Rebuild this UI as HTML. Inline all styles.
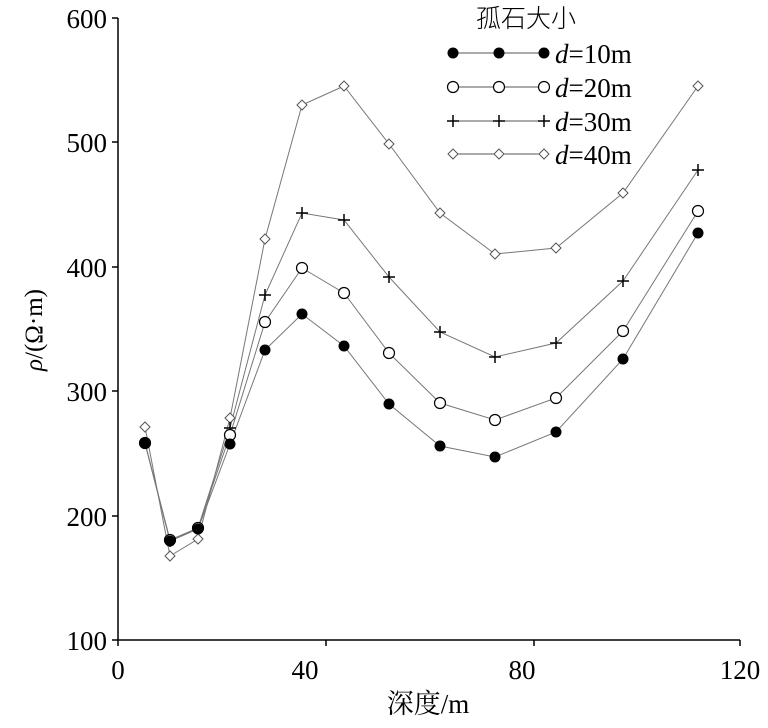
<!DOCTYPE html>
<html><head><meta charset="utf-8"><style>body{margin:0;background:#fff}</style></head><body>
<svg width="768" height="723" xmlns="http://www.w3.org/2000/svg" font-family="Liberation Serif, Noto Serif CJK SC, serif">
<defs>
<circle id="f" r="5.5" fill="#000"/>
<circle id="o" r="5.5" fill="#fff" stroke="#000" stroke-width="1.2"/>
<path id="p" d="M-6 0H6M0 -6V6" stroke="#000" stroke-width="1.5"/>
<path id="dm" d="M0 -5L5 0L0 5L-5 0Z" fill="#fff" stroke="#555" stroke-width="1"/>
</defs>
<g stroke="#000" stroke-width="1.5" fill="none">
<path d="M118 18V640H740"/>
<path d="M112 18H118M112 142H118M112 267H118M112 391H118M112 516H118M112 640H118"/>
<path d="M118 640V646M326 640V646M534 640V646M740 640V646"/>
</g>
<g font-size="27" text-anchor="end">
<text x="107" y="28">600</text><text x="107" y="152">500</text><text x="107" y="277">400</text>
<text x="107" y="401">300</text><text x="107" y="526">200</text><text x="107" y="650">100</text>
</g>
<g font-size="27" text-anchor="middle">
<text x="118" y="679">0</text><text x="305" y="679">40</text><text x="522" y="679">80</text><text x="740" y="679">120</text>
<text x="428" y="713">深度/m</text>
</g>
<text transform="translate(42,330) rotate(-90)" font-size="25" text-anchor="middle"><tspan font-style="italic">ρ</tspan>/(Ω·m)</text>
<rect x="430" y="0" width="200" height="168" fill="#fff"/>
<g fill="none" stroke="#777" stroke-width="1">
<polyline points="145,443 170,541 198,529 230,444 265,350 302,314 344,346 389,404 440,446 495,457 556,432 623,359 698,233"/>
<polyline points="145,443 170,540 198,528 230,435 265,322 302,268 344,293 389,353 440,403 495,420 556,398 623,331 698,211"/>
<polyline points="145,443 170,541 198,528 230,428 265,295 302,213 344,220 389,277 440,332 495,357 556,343 623,281 698,170"/>
<polyline points="145,427 170,556 198,539 230,418 265,239 302,105 344,86 389,144 440,213 495,254 556,248 623,193 698,86"/>
</g>
<g>
<use href="#dm" x="145" y="427"/><use href="#dm" x="170" y="556"/><use href="#dm" x="198" y="539"/><use href="#dm" x="230" y="418"/><use href="#dm" x="265" y="239"/><use href="#dm" x="302" y="105"/><use href="#dm" x="344" y="86"/><use href="#dm" x="389" y="144"/><use href="#dm" x="440" y="213"/><use href="#dm" x="495" y="254"/><use href="#dm" x="556" y="248"/><use href="#dm" x="623" y="193"/><use href="#dm" x="698" y="86"/>
<use href="#p" x="145" y="443"/><use href="#p" x="170" y="541"/><use href="#p" x="198" y="528"/><use href="#p" x="230" y="428"/><use href="#p" x="265" y="295"/><use href="#p" x="302" y="213"/><use href="#p" x="344" y="220"/><use href="#p" x="389" y="277"/><use href="#p" x="440" y="332"/><use href="#p" x="495" y="357"/><use href="#p" x="556" y="343"/><use href="#p" x="623" y="281"/><use href="#p" x="698" y="170"/>
<use href="#o" x="145" y="443"/><use href="#o" x="170" y="540"/><use href="#o" x="198" y="528"/><use href="#o" x="230" y="435"/><use href="#o" x="265" y="322"/><use href="#o" x="302" y="268"/><use href="#o" x="344" y="293"/><use href="#o" x="389" y="353"/><use href="#o" x="440" y="403"/><use href="#o" x="495" y="420"/><use href="#o" x="556" y="398"/><use href="#o" x="623" y="331"/><use href="#o" x="698" y="211"/>
<use href="#f" x="145" y="443"/><use href="#f" x="170" y="541"/><use href="#f" x="198" y="529"/><use href="#f" x="230" y="444"/><use href="#f" x="265" y="350"/><use href="#f" x="302" y="314"/><use href="#f" x="344" y="346"/><use href="#f" x="389" y="404"/><use href="#f" x="440" y="446"/><use href="#f" x="495" y="457"/><use href="#f" x="556" y="432"/><use href="#f" x="623" y="359"/><use href="#f" x="698" y="233"/>
</g>
<text x="476" y="27" font-size="25" font-family="Noto Sans CJK SC, sans-serif" font-weight="300">孤石大小</text>
<g stroke="#555" stroke-width="1">
<path d="M453 53H541M453 87H541M453 121H541M453 154H541"/>
</g>
<use href="#f" x="453" y="53"/><use href="#f" x="499" y="53"/><use href="#f" x="544" y="53"/>
<use href="#o" x="453" y="87"/><use href="#o" x="499" y="87"/><use href="#o" x="544" y="87"/>
<use href="#p" x="453" y="121"/><use href="#p" x="499" y="121"/><use href="#p" x="544" y="121"/>
<use href="#dm" x="453" y="154"/><use href="#dm" x="499" y="154"/><use href="#dm" x="544" y="154"/>
<g font-size="27">
<text x="555" y="63"><tspan font-style="italic">d</tspan>=10m</text>
<text x="555" y="97"><tspan font-style="italic">d</tspan>=20m</text>
<text x="555" y="131"><tspan font-style="italic">d</tspan>=30m</text>
<text x="555" y="164"><tspan font-style="italic">d</tspan>=40m</text>
</g>
</svg>
</body></html>
